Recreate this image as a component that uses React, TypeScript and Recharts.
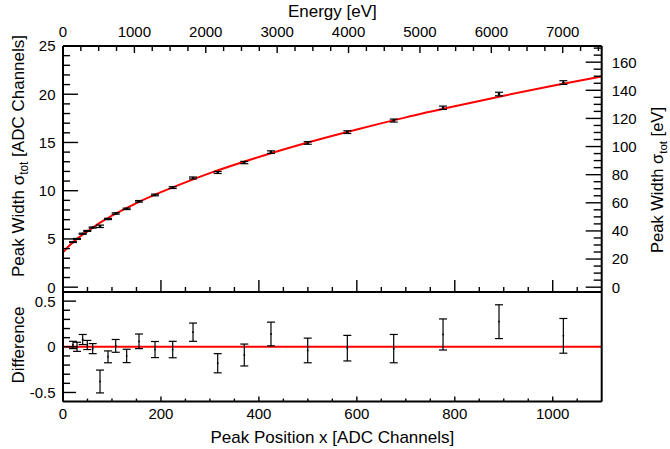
import {
  ComposedChart,
  ErrorBar,
  Line,
  ReferenceLine,
  Scatter,
  XAxis,
  YAxis,
} from 'recharts';

const FONT = '"Liberation Sans", Arial, Helvetica, sans-serif';
const EV_PER_CHANNEL = 6.86;

// measured peaks: position [ADC], width sigma [ADC], error, residual to fit
const peakChannels = [
  20.4, 28.6, 40.2, 49.6, 60.6, 75.6, 91.9, 107.6, 130, 155.2, 187.9, 224, 265.5, 315.9, 370.2,
  424.7, 499.7, 580.6, 675.3, 776, 890.3, 1021.7,
];
const peakWidths = [
  4.67, 5.0, 5.54, 5.83, 6.18, 6.31, 7.07, 7.64, 8.12, 8.9, 9.56, 10.32, 11.32, 11.89, 12.92, 14.0,
  14.95, 16.07, 17.27, 18.6, 20.02, 21.21,
];
const widthErrors = [
  0.04, 0.05, 0.055, 0.05, 0.055, 0.125, 0.065, 0.07, 0.073, 0.08, 0.088, 0.09, 0.1, 0.105, 0.12,
  0.13, 0.135, 0.14, 0.155, 0.17, 0.185, 0.19,
];
const residuals = [
  0.02, 0.0, 0.08, 0.02, -0.02, -0.38, -0.11, 0.01, -0.1, 0.06, -0.03, -0.03, 0.16, -0.18, -0.09,
  0.14, -0.04, -0.015, -0.02, 0.135, 0.275, 0.12,
];

// red fit curve
const fitChannels = [0, 10, 25, 50, 75, 100, 150, 200, 250, 300, 400, 500, 600, 700, 800, 900, 1000, 1100];
const fitWidths = [
  3.6, 4.16, 4.87, 5.78, 6.67, 7.41, 8.72, 9.85, 10.87, 11.82, 13.5, 15.0, 16.35, 17.6, 18.75, 19.85,
  20.88, 21.85,
];

// ticks
const channelMajor = [0, 200, 400, 600, 800, 1000];
const channelMinor = Array.from({ length: 22 }, (_, i) => i * 50);
const energyMajor = [0, 1000, 2000, 3000, 4000, 5000, 6000, 7000];
const energyMinor = Array.from({ length: 31 }, (_, i) => i * 250);
const sigmaMajor = [0, 5, 10, 15, 20, 25];
const sigmaMinor = Array.from({ length: 26 }, (_, i) => i);
const sigmaEvMajor = [0, 20, 40, 60, 80, 100, 120, 140, 160];
const sigmaEvMinor = Array.from({ length: 35 }, (_, i) => i * 5);
const diffMajor = [-0.5, 0, 0.5];
const diffMinor = [-0.5, -0.4, -0.3, -0.2, -0.1, 0, 0.1, 0.2, 0.3, 0.4, 0.5];

const peakData = peakChannels.map((x, i) => ({ x, y: peakWidths[i], err: widthErrors[i] }));
const residualData = peakChannels.map((x, i) => ({ x, y: residuals[i], err: widthErrors[i] }));
const fitData = fitChannels.map((x, i) => ({ x, y: fitWidths[i] }));

// the energy axis sits on the channel scale
const toChannel = (e: number) => e / EV_PER_CHANNEL;
const energyTicksCh = energyMinor.map(toChannel);
const energyMajorCh = energyMajor.map(toChannel);
const fmtEnergy = (v: number) => String(Math.round(v * EV_PER_CHANNEL));

// layout
const W = 670;
const LEFT_W = 63;
const RIGHT_W = 68.3;
const UPPER_H = 300;
const LOWER_TOP = 284;
const LOWER_H = 165;
const frame = { stroke: '#000', strokeWidth: 2 };
const textProps = { fill: '#000', stroke: 'none', fontFamily: FONT };

type Side = 'left' | 'right' | 'top' | 'bottom';

interface TickOpts {
  side: Side;
  major: number[];
  majorLen: number;
  minorLen: number;
  offset?: number;
  labels?: boolean;
  format?: (v: number) => string;
}

const makeTick =
  ({ side, major, majorLen, minorLen, offset = 0, labels = true, format = String }: TickOpts) =>
  (props: any) => {
    const { x, y, payload } = props;
    const v = payload.value;
    const isMajor = major.some((m) => Math.abs(m - v) < 1e-6);
    const len = isMajor ? majorLen : minorLen;
    const txt = labels && isMajor ? format(v) : null;
    let line;
    let label = null;
    if (side === 'left') {
      line = <line x1={x} y1={y} x2={x + len} y2={y} />;
      if (txt) label = <text x={x - offset} y={y} dy="0.36em" textAnchor="end" fontSize={15} {...textProps}>{txt}</text>;
    } else if (side === 'right') {
      line = <line x1={x - len} y1={y} x2={x} y2={y} />;
      if (txt) label = <text x={x + offset} y={y} dy="0.36em" textAnchor="start" fontSize={15} {...textProps}>{txt}</text>;
    } else if (side === 'top') {
      line = <line x1={x} y1={y} x2={x} y2={y + len} />;
      if (txt) label = <text x={x} y={y - offset} textAnchor="middle" fontSize={15} {...textProps}>{txt}</text>;
    } else {
      line = <line x1={x} y1={y - len} x2={x} y2={y} />;
      if (txt) label = <text x={x} y={y + offset} textAnchor="middle" fontSize={15} {...textProps}>{txt}</text>;
    }
    return (
      <g stroke="#000" strokeWidth={1.4}>
        {line}
        {label}
      </g>
    );
  };

const plotMidX = (LEFT_W + W - RIGHT_W) / 2;

const SigmaTitle = ({ x, y, unit, size = 17 }: { x: number; y: number; unit: string; size?: number }) => (
  <text
    x={x}
    y={y}
    transform={`rotate(-90 ${x} ${y})`}
    textAnchor="middle"
    dy="0.35em"
    fontSize={size}
    {...textProps}
  >
    Peak Width σ
    <tspan dy={4} fontSize={size * 0.7}>
      tot
    </tspan>
    <tspan dy={-4}>{'  '}{unit}</tspan>
  </text>
);

const dot = (r: number) => (p: any) => <circle cx={p.cx} cy={p.cy} r={r} fill="#000" />;

export default function App() {
  return (
    <div style={{ position: 'absolute', left: 0, top: 0, width: W, height: 449, background: '#fff' }}>
      <div style={{ position: 'absolute', left: 0, top: 0 }}>
        <ComposedChart
          width={W}
          height={UPPER_H}
          data={peakData}
          margin={{ top: 0, right: 0, bottom: 0, left: 0 }}
        >
          <XAxis
            xAxisId="ch"
            dataKey="x"
            type="number"
            domain={[0, 1100]}
            allowDataOverflow
            orientation="bottom"
            height={8}
            ticks={channelMinor}
            interval={0}
            tickSize={0}
            tickMargin={0}
            tickLine={false}
            axisLine={frame}
            tick={makeTick({ side: 'bottom', major: channelMajor, majorLen: 12, minorLen: 5, labels: false })}
          />
          <XAxis
            xAxisId="energy"
            dataKey="x"
            type="number"
            orientation="top"
            domain={[0, 1100]}
            allowDataOverflow
            height={46}
            ticks={energyTicksCh}
            interval={0}
            tickSize={0}
            tickMargin={0}
            tickLine={false}
            axisLine={frame}
            tick={makeTick({
              side: 'top',
              major: energyMajorCh,
              majorLen: 7,
              minorLen: 5,
              offset: 9,
              format: fmtEnergy,
            })}
            label={() => (
              <text x={plotMidX} y={17} textAnchor="middle" fontSize={17} {...textProps}>
                Energy [eV]
              </text>
            )}
          />
          <YAxis
            yAxisId="sigma"
            dataKey="y"
            type="number"
            domain={[-0.5, 25]}
            allowDataOverflow
            width={LEFT_W}
            ticks={sigmaMinor}
            interval={0}
            tickSize={0}
            tickMargin={0}
            tickLine={false}
            axisLine={frame}
            tick={makeTick({ side: 'left', major: sigmaMajor, majorLen: 15, minorLen: 7, offset: 7.5 })}
            label={() => <SigmaTitle x={18} y={156} unit="[ADC Channels]" />}
          />
          <YAxis
            yAxisId="ev"
            type="number"
            orientation="right"
            domain={[-0.5 * EV_PER_CHANNEL, 25 * EV_PER_CHANNEL]}
            allowDataOverflow
            width={RIGHT_W}
            ticks={sigmaEvMinor}
            interval={0}
            tickSize={0}
            tickMargin={0}
            tickLine={false}
            axisLine={frame}
            tick={makeTick({ side: 'right', major: sigmaEvMajor, majorLen: 16, minorLen: 8, offset: 10 })}
            label={() => <SigmaTitle x={657} y={180} unit="[eV]" size={16.5} />}
          />
          <Line
            xAxisId="ch"
            yAxisId="sigma"
            data={fitData}
            dataKey="y"
            type="monotone"
            stroke="#ff0000"
            strokeWidth={2}
            dot={false}
            isAnimationActive={false}
          />
          <Scatter
            xAxisId="ch"
            yAxisId="sigma"
            data={peakData}
            dataKey="y"
            shape={dot(1.3)}
            isAnimationActive={false}
          >
            <ErrorBar dataKey="err" direction="y" width={4} stroke="#000" strokeWidth={1.2} isAnimationActive={false} />
          </Scatter>
        </ComposedChart>
      </div>

      <div style={{ position: 'absolute', left: 0, top: LOWER_TOP }}>
        <ComposedChart
          width={W}
          height={LOWER_H}
          data={residualData}
          margin={{ top: 0, right: 0, bottom: 0, left: 0 }}
        >
          <XAxis
            xAxisId="ch"
            dataKey="x"
            type="number"
            domain={[0, 1100]}
            allowDataOverflow
            orientation="bottom"
            height={47.4}
            ticks={channelMinor}
            interval={0}
            tickSize={0}
            tickMargin={0}
            tickLine={false}
            axisLine={frame}
            tick={makeTick({ side: 'bottom', major: channelMajor, majorLen: 5, minorLen: 3, offset: 17.5 })}
            label={() => (
              <text x={plotMidX} y={443 - LOWER_TOP} textAnchor="middle" fontSize={17} {...textProps}>
                Peak Position x [ADC Channels]
              </text>
            )}
          />
          <XAxis
            xAxisId="topframe"
            dataKey="x"
            type="number"
            orientation="top"
            domain={[0, 1100]}
            allowDataOverflow
            height={8}
            tick={false}
            tickLine={false}
            axisLine={frame}
          />
          <YAxis
            yAxisId="diff"
            dataKey="y"
            type="number"
            domain={[-0.6, 0.6]}
            allowDataOverflow
            width={LEFT_W}
            ticks={diffMinor}
            interval={0}
            tickSize={0}
            tickMargin={0}
            tickLine={false}
            axisLine={frame}
            tick={makeTick({ side: 'left', major: diffMajor, majorLen: 13, minorLen: 7, offset: 7.5 })}
            label={() => (
              <text
                x={18}
                y={345 - LOWER_TOP}
                transform={`rotate(-90 18 ${345 - LOWER_TOP})`}
                textAnchor="middle"
                dy="0.35em"
                fontSize={17}
                {...textProps}
              >
                Difference
              </text>
            )}
          />
          <YAxis
            yAxisId="rframe"
            type="number"
            orientation="right"
            domain={[0, 1]}
            allowDataOverflow
            width={RIGHT_W}
            tick={false}
            tickLine={false}
            axisLine={frame}
          />
          <ReferenceLine xAxisId="ch" yAxisId="diff" y={0} stroke="#ff0000" strokeWidth={2} />
          <Scatter
            xAxisId="ch"
            yAxisId="diff"
            data={residualData}
            dataKey="y"
            shape={dot(0.9)}
            isAnimationActive={false}
          >
            <ErrorBar dataKey="err" direction="y" width={4} stroke="#000" strokeWidth={1.2} isAnimationActive={false} />
          </Scatter>
        </ComposedChart>
      </div>
    </div>
  );
}
